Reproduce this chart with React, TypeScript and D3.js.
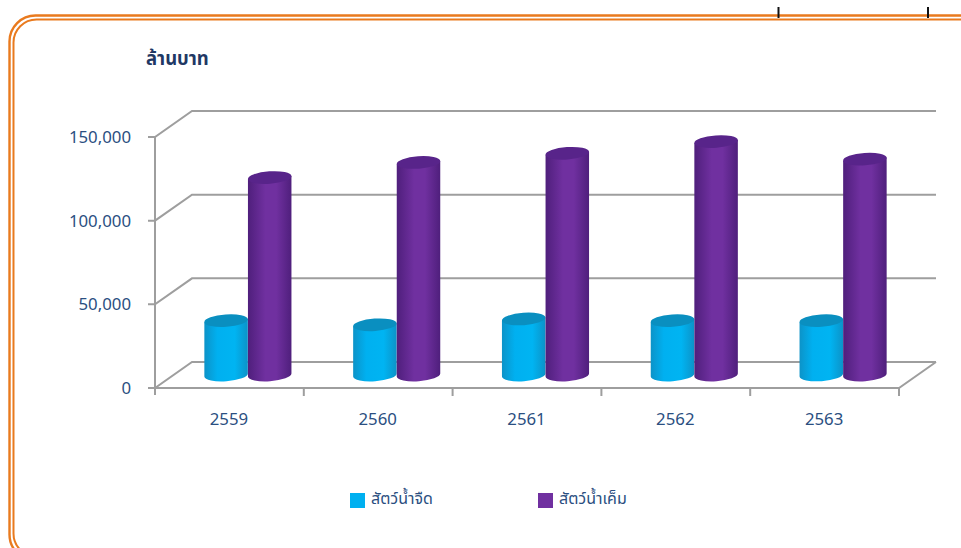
import React from "react";
import * as d3 from "d3";

const categories = ["2559", "2560", "2561", "2562", "2563"];
const freshwater = [32500, 30000, 33500, 32500, 32500];
const saltwater = [118000, 127000, 132500, 139500, 129000];
const yTicks = [0, 50000, 100000, 150000];
const seriesNames = ["สัตว์น้ำจืด", "สัตว์น้ำเค็ม"];
const unitLabel = "ล้านบาท";

const FONT = "'Noto Sans','Noto Sans Thai','Open Sans',sans-serif";
const TEXT = "#2B4F81";
const GRID = "#9E9E9E";
const ORANGE = "#E97A1E";
const depthX = 37;
const depthY = 26;
const x = d3.scaleBand<string>().domain(categories).range([155, 899]);
const y = d3.scaleLinear().domain([0, 150000]).range([388, 137]);
const fmt = d3.format(",");
const rx = 21.8;
const ry = 6.2;
const rot = -4;
const rad = (rot * Math.PI) / 180;

function Cylinder({ cx, value, id, top }: { cx: number; value: number; id: string; top: string }) {
  const base = y(0) - depthY / 2;
  const t = y(value) - depthY / 2;
  const dx = rx * Math.cos(rad);
  const dy = rx * Math.sin(rad);
  const d = `M${cx - dx},${t - dy} L${cx - dx},${base - dy} A${rx},${ry} ${rot} 0 0 ${cx + dx},${base + dy} L${cx + dx},${t + dy} Z`;
  return (
    <g>
      <path d={d} fill={`url(#${id})`} />
      <ellipse cx={cx} cy={t} rx={rx} ry={ry} fill={top} transform={`rotate(${rot} ${cx} ${t})`} />
    </g>
  );
}

export default function App() {
  return (
    <svg width={961} height={548} style={{ position: "absolute", left: 0, top: 0, background: "#fff" }}>
      <defs>
        <linearGradient id="blue">
          <stop offset="0" stopColor="#0C93C8" />
          <stop offset="0.3" stopColor="#00B0F0" />
          <stop offset="0.7" stopColor="#00B4F2" />
          <stop offset="1" stopColor="#0C93C8" />
        </linearGradient>
        <linearGradient id="purple">
          <stop offset="0" stopColor="#4F1F7C" />
          <stop offset="0.4" stopColor="#7030A0" />
          <stop offset="0.65" stopColor="#7030A0" />
          <stop offset="1" stopColor="#4F1F7C" />
        </linearGradient>
      </defs>

      {/* frame */}
      <rect x={9.5} y={15.5} width={985} height={545} rx={26} fill="none" stroke={ORANGE} strokeWidth={2.4} />
      <rect x={13.5} y={19.5} width={977} height={537} rx={23} fill="none" stroke={ORANGE} strokeWidth={2} />
      <line x1={778.5} x2={778.5} y1={7} y2={18} stroke="#111" strokeWidth={2} />
      <line x1={928} x2={928} y1={7} y2={18} stroke="#111" strokeWidth={2} />

      <text x={146} y={65} fontFamily={FONT} fontWeight={700} fontSize={18.5} fill="#1F3864">{unitLabel}</text>

      {/* grid */}
      <g fill="none" stroke={GRID} strokeWidth={2}>
        {yTicks.map((v) => (
          <g key={v}>
            <path d={`M${x.range()[0] - 7},${y(v)} H${x.range()[0]} L${x.range()[0] + depthX},${y(v) - depthY} H${x.range()[1] + depthX}`} />
          </g>
        ))}
        <path d={`M${x.range()[0]},${y(150000)} V${y(0) + 7}`} />
        <path d={`M${x.range()[0]},${y(0)} H${x.range()[1]} L${x.range()[1] + depthX},${y(0) - depthY}`} />
        {categories.map((c) => (
          <path key={c} d={`M${(x(c) as number) + x.bandwidth()},${y(0)} v8`} />
        ))}
      </g>

      {/* axis labels */}
      {yTicks.map((v) => (
        <text key={v} x={131} y={y(v) + 6} textAnchor="end" fontFamily={FONT} fontSize={16.8} fill={TEXT}>{fmt(v)}</text>
      ))}
      {categories.map((c) => (
        <text key={c} x={(x(c) as number) + x.bandwidth() / 2 - 0.5} y={425} textAnchor="middle" fontFamily={FONT} fontSize={16.8} fill={TEXT}>{c}</text>
      ))}

      {/* bars */}
      {categories.map((c, i) => {
        const mid = (x(c) as number) + x.bandwidth() / 2 + depthX / 2;
        return (
          <g key={c}>
            <Cylinder cx={mid - rx} value={freshwater[i]} id="blue" top="#0A8FC0" />
            <Cylinder cx={mid + rx} value={saltwater[i]} id="purple" top="#58248A" />
          </g>
        );
      })}

      {/* legend */}
      <rect x={350} y={493} width={15} height={15} fill="#00B0F0" />
      <text x={371} y={504} fontFamily={FONT} fontSize={16} fill={TEXT}>{seriesNames[0]}</text>
      <rect x={538} y={493} width={15} height={15} fill="#7030A0" />
      <text x={559} y={504} fontFamily={FONT} fontSize={16} fill={TEXT}>{seriesNames[1]}</text>
    </svg>
  );
}
